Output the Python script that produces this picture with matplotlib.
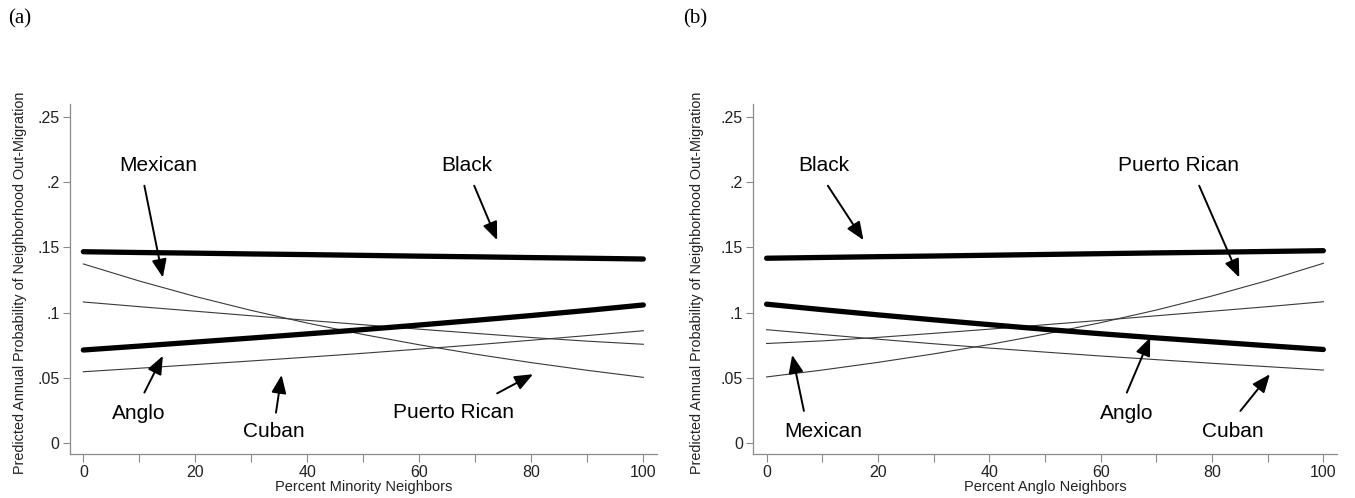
import numpy as np
import matplotlib
matplotlib.use("Agg")
import matplotlib.pyplot as plt

plt.rcParams['font.family'] = ['Liberation Sans', 'DejaVu Sans']

# valores (x de 10 em 10)
x = [0, 10, 20, 30, 40, 50, 60, 70, 80, 90, 100]

# painel (a): percentual de vizinhos minoritarios
a_black = [0.1467, 0.1461, 0.1456, 0.1450, 0.1445, 0.1439, 0.1433, 0.1428, 0.1422, 0.1417, 0.1411]
a_anglo = [0.0712, 0.0742, 0.0773, 0.0804, 0.0836, 0.0869, 0.0904, 0.0940, 0.0977, 0.1016, 0.1058]
a_mexican = [0.1373, 0.1242, 0.1123, 0.1016, 0.0919, 0.0831, 0.0752, 0.0680, 0.0615, 0.0556, 0.0502]
a_puerto = [0.1081, 0.1045, 0.1010, 0.0975, 0.0940, 0.0906, 0.0872, 0.0840, 0.0808, 0.0780, 0.0756]
a_cuban = [0.0545, 0.0572, 0.0600, 0.0628, 0.0657, 0.0687, 0.0719, 0.0752, 0.0787, 0.0823, 0.0860]

# painel (b): percentual de vizinhos anglo
b_black = [0.1417, 0.1423, 0.1429, 0.1434, 0.1440, 0.1446, 0.1452, 0.1458, 0.1463, 0.1469, 0.1475]
b_anglo = [0.1064, 0.1022, 0.0982, 0.0944, 0.0907, 0.0871, 0.0837, 0.0805, 0.0775, 0.0745, 0.0716]
b_puerto = [0.0505, 0.0558, 0.0617, 0.0682, 0.0754, 0.0834, 0.0922, 0.1019, 0.1127, 0.1246, 0.1378]
b_mexican = [0.0762, 0.0782, 0.0809, 0.0840, 0.0872, 0.0906, 0.0940, 0.0975, 0.1010, 0.1045, 0.1083]
b_cuban = [0.0868, 0.0831, 0.0795, 0.0760, 0.0727, 0.0696, 0.0666, 0.0638, 0.0610, 0.0584, 0.0558]

y_ticks = [0, 0.05, 0.1, 0.15, 0.2, 0.25]
y_tick_labels = ["0", ".05", ".1", ".15", ".2", ".25"]
x_ticks = [0, 20, 40, 60, 80, 100]
x_minor = [10, 30, 50, 70, 90]

y_label = "Predicted Annual Probability of Neighborhood Out-Migration"

# rotulos: (texto, posicao do texto, cauda da seta, ponta da seta)
a_labels = [
    ("Mexican", (13.3, 0.2128), (10.9, 0.1974), (14.2, 0.1269)),
    ("Black", (68.4, 0.2128), (69.8, 0.1974), (73.9, 0.1556)),
    ("Anglo", (9.9, 0.0223), (10.9, 0.0385), (14.2, 0.0667)),
    ("Cuban", (34.1, 0.0085), (34.4, 0.0231), (35.4, 0.0520)),
    ("Puerto Rican", (66.1, 0.0231), (73.9, 0.0379), (80.3, 0.0526)),
]
b_labels = [
    ("Black", (10.2, 0.2128), (11.0, 0.1974), (17.4, 0.1556)),
    ("Puerto Rican", (74.0, 0.2128), (77.7, 0.1974), (84.9, 0.1269)),
    ("Mexican", (10.1, 0.0085), (6.7, 0.0244), (4.6, 0.0674)),
    ("Anglo", (64.7, 0.0223), (64.7, 0.0385), (68.9, 0.0808)),
    ("Cuban", (83.7, 0.0085), (85.1, 0.0244), (90.4, 0.0526)),
]

fig = plt.figure(figsize=(13.55, 4.98), dpi=100)
ax_a = fig.add_axes([0.05159, 0.0878, 0.4331, 0.7034])
ax_b = fig.add_axes([0.5559, 0.0878, 0.4306, 0.7034])

gray = "#8a8a8a"


def desenhar(ax, thick, thin, labels, xlabel):
    for ys in thin:
        ax.plot(x, ys, color="#3a3a3a", linewidth=0.8)
    for ys in thick:
        ax.plot(x, ys, color="black", linewidth=3.8, solid_capstyle="round")

    for texto, pos, cauda, ponta in labels:
        ax.text(pos[0], pos[1], texto, fontsize=15, ha="center", va="center")
        ax.annotate("", xy=ponta, xytext=cauda,
                    arrowprops=dict(arrowstyle="-|>,head_length=1.1,head_width=0.45",
                                    color="black", lw=1.4, shrinkA=0, shrinkB=0,
                                    mutation_scale=10))

    ax.set_xlim(-2.4, 102.4)
    ax.set_ylim(-0.0089, 0.2602)
    ax.set_xticks(x_ticks)
    ax.set_xticks(x_minor, minor=True)
    ax.set_yticks(y_ticks)
    ax.set_yticklabels(y_tick_labels)

    for lado in ["top", "right"]:
        ax.spines[lado].set_visible(False)
    for lado in ["left", "bottom"]:
        ax.spines[lado].set_color(gray)
        ax.spines[lado].set_linewidth(0.9)

    ax.tick_params(axis="x", which="both", length=6, width=0.8, color=gray,
                   labelsize=11.5, pad=1.5, labelcolor="#222222")
    ax.tick_params(axis="y", length=5, width=0.8, color=gray,
                   labelsize=11.5, pad=2.5, labelcolor="#222222")

    ax.set_xlabel(xlabel, fontsize=10.5, labelpad=0, color="#222222")


desenhar(ax_a, [a_black, a_anglo], [a_mexican, a_puerto, a_cuban], a_labels,
         "Percent Minority Neighbors")
desenhar(ax_b, [b_black, b_anglo], [b_puerto, b_mexican, b_cuban], b_labels,
         "Percent Anglo Neighbors")

fig.text(20 / 1355, 0.4317, y_label, rotation=90, fontsize=10.4,
         ha="center", va="center", color="#222222")
fig.text(697 / 1355, 0.4317, y_label, rotation=90, fontsize=10.4,
         ha="center", va="center", color="#222222")

fig.text(0.006, 0.963, "(a)", fontsize=15, family="Liberation Serif", va="center")
fig.text(0.504, 0.963, "(b)", fontsize=15, family="Liberation Serif", va="center")

fig.savefig("out.png", dpi=100)
